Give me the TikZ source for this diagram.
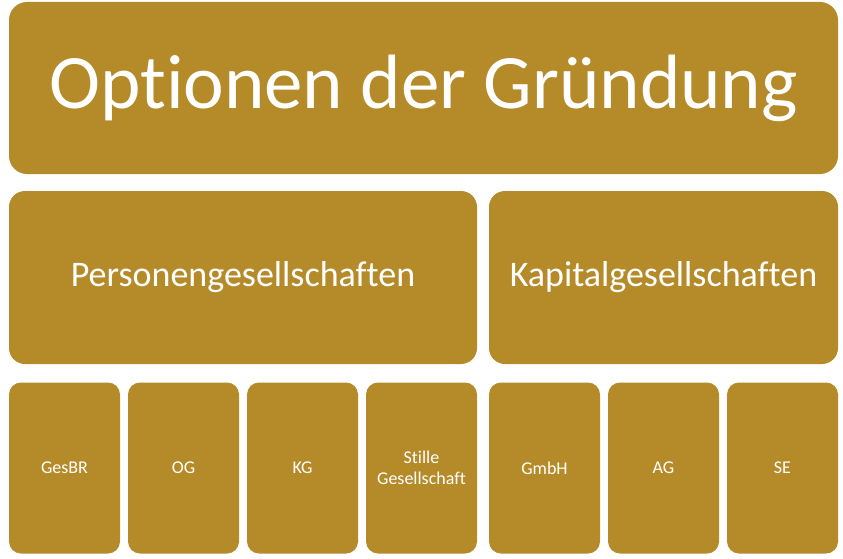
\documentclass[tikz,border=0pt]{standalone}
\usepackage{fontspec}
\setmainfont[Ligatures=NoCommon]{Carlito}
\usetikzlibrary{positioning}
\definecolor{gold}{HTML}{B58B2A}
\begin{document}
\begin{tikzpicture}[
    x=1pt, y=-1pt,
    node distance=8pt,
    box/.style={rectangle, fill=gold, text=white, rounded corners=12pt, inner sep=0pt, outer sep=0pt, align=center},
    title/.style={box, minimum width=829pt, minimum height=172pt, rounded corners=18pt, font=\fontsize{77}{84}\selectfont},
    group/.style={box, minimum height=173pt, rounded corners=16pt, font=\fontsize{36}{42}\selectfont},
    form/.style={box, minimum width=111pt, minimum height=171pt, font=\fontsize{18}{21}\selectfont}
]
    \useasboundingbox (0,0) rectangle (843,559);

    \node [title] (optionen) at (423.5,88) {Optionen der Gründung};

    \node [group, minimum width=468pt] (person) at (243,277.5) {Personengesellschaften};
    \node [group, minimum width=349pt] (kapital) at (663.5,277.5) {Kapitalgesellschaften};

    \node [form] (gesbr) at (64.5,468) {GesBR};
    \node [form, right=of gesbr] (og) {OG};
    \node [form, right=of og] (kg) {KG};
    \node [form, right=of kg] (stille) {Stille\\Gesellschaft};

    \node [form] (gmbh) at (544.5,468) {GmbH};
    \node [form, right=of gmbh] (ag) {AG};
    \node [form, right=of ag] (se) {SE};
\end{tikzpicture}
\end{document}
